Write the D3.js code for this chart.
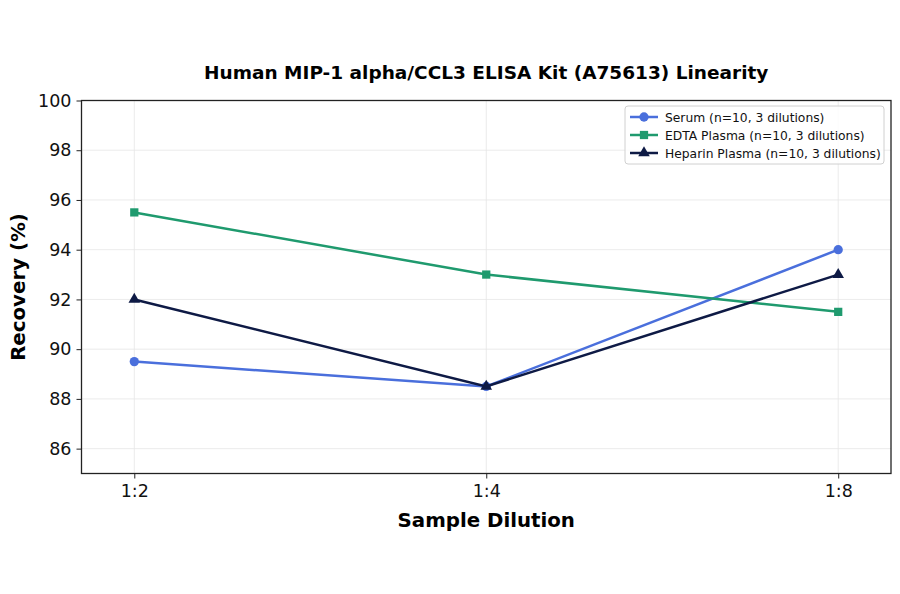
<!DOCTYPE html>
<html>
<head>
<meta charset="utf-8">
<script src="https://cdn.jsdelivr.net/npm/d3@7"></script>
<style>
  body { margin: 0; background: #fff; }
  svg { font-family: "DejaVu Sans", sans-serif; }
</style>
</head>
<body>
<svg id="chart" width="900" height="594"></svg>
<script>
// categories and series
const dilutions = ['1:2', '1:4', '1:8'];
const serumValues = [89.5, 88.5, 94.0];
const edtaValues = [95.5, 93.0, 91.5];
const heparinValues = [92.0, 88.5, 93.0];
const seriesNames = [
  'Serum (n=10, 3 dilutions)',
  'EDTA Plasma (n=10, 3 dilutions)',
  'Heparin Plasma (n=10, 3 dilutions)'
];
const yTicks = [86, 88, 90, 92, 94, 96, 98, 100];

const series = [
  { name: seriesNames[0], values: serumValues, color: '#4a6fdc', shape: d3.symbolCircle },
  { name: seriesNames[1], values: edtaValues, color: '#1f9a6e', shape: d3.symbolSquare },
  { name: seriesNames[2], values: heparinValues, color: '#0e1a45', shape: d3.symbolTriangle }
];

const width = 900;
const height = 594;
const margin = { top: 100.5, right: 9, bottom: 120.5, left: 81.5 };
const svg = d3.select('#chart');

const x = d3.scalePoint().domain(dilutions)
  .range([margin.left, width - margin.right]).padding(0.15);
const y = d3.scaleLinear().domain([85, 100])
  .range([height - margin.bottom, margin.top]);

const markerSize = s => s === d3.symbolTriangle ? 58 : 68;

// grid
const grid = svg.append('g');
grid.selectAll('line.h').data(yTicks).enter().append('line')
  .attr('x1', margin.left).attr('x2', width - margin.right)
  .attr('y1', d => y(d)).attr('y2', d => y(d))
  .attr('stroke', '#e6e6e6').attr('stroke-width', 0.8);
grid.selectAll('line.v').data(dilutions).enter().append('line')
  .attr('x1', d => x(d)).attr('x2', d => x(d))
  .attr('y1', margin.top).attr('y2', height - margin.bottom)
  .attr('stroke', '#e6e6e6').attr('stroke-width', 0.8);

// axes
const xAxis = svg.append('g')
  .attr('transform', `translate(0,${height - margin.bottom})`)
  .call(d3.axisBottom(x).tickSize(5).tickPadding(6));
const yAxis = svg.append('g')
  .attr('transform', `translate(${margin.left},0)`)
  .call(d3.axisLeft(y).tickValues(yTicks).tickSize(5).tickPadding(5));
[xAxis, yAxis].forEach(a => {
  a.select('.domain').remove();
  a.selectAll('text').attr('font-size', 17.5).attr('fill', '#111')
    .attr('font-family', '"DejaVu Sans", sans-serif');
  a.selectAll('line').attr('stroke', '#222').attr('stroke-width', 1);
});

// frame
svg.append('rect')
  .attr('x', margin.left).attr('y', margin.top)
  .attr('width', width - margin.right - margin.left)
  .attr('height', height - margin.bottom - margin.top)
  .attr('fill', 'none').attr('stroke', '#222').attr('stroke-width', 1.3);

// lines and markers
const line = d3.line().x((d, i) => x(dilutions[i])).y(d => y(d));
series.forEach(s => {
  svg.append('path')
    .attr('d', line(s.values))
    .attr('fill', 'none')
    .attr('stroke', s.color)
    .attr('stroke-width', 2.5);
  svg.append('g').selectAll('path').data(s.values).enter().append('path')
    .attr('transform', (d, i) => `translate(${x(dilutions[i])},${y(d)})`)
    .attr('d', d3.symbol().type(s.shape).size(markerSize(s.shape)))
    .attr('fill', s.color);
});

// title and axis labels
svg.append('text')
  .attr('x', (margin.left + width - margin.right) / 2).attr('y', 79)
  .attr('text-anchor', 'middle').attr('font-size', 18.5).attr('font-weight', 'bold')
  .text('Human MIP-1 alpha/CCL3 ELISA Kit (A75613) Linearity');
svg.append('text')
  .attr('x', (margin.left + width - margin.right) / 2).attr('y', 527)
  .attr('text-anchor', 'middle').attr('font-size', 19.8).attr('font-weight', 'bold')
  .text('Sample Dilution');
svg.append('text')
  .attr('transform', `translate(25,${(margin.top + height - margin.bottom) / 2}) rotate(-90)`)
  .attr('text-anchor', 'middle').attr('font-size', 19.8).attr('font-weight', 'bold')
  .text('Recovery (%)');

// legend
const legend = svg.append('g').attr('transform', 'translate(625,106)');
legend.append('rect')
  .attr('width', 259).attr('height', 58).attr('rx', 3)
  .attr('fill', '#fff').attr('fill-opacity', 0.85)
  .attr('stroke', '#d0d0d0').attr('stroke-width', 1);
series.forEach((s, i) => {
  const g = legend.append('g').attr('transform', `translate(0,${11 + i * 18})`);
  g.append('line').attr('x1', 5).attr('x2', 33)
    .attr('stroke', s.color).attr('stroke-width', 2.5);
  g.append('path').attr('transform', 'translate(19,0)')
    .attr('d', d3.symbol().type(s.shape).size(markerSize(s.shape)))
    .attr('fill', s.color);
  g.append('text').attr('x', 40).attr('y', 4.5)
    .attr('font-size', 12.3).attr('fill', '#111')
    .text(s.name);
});
</script>
</body>
</html>
